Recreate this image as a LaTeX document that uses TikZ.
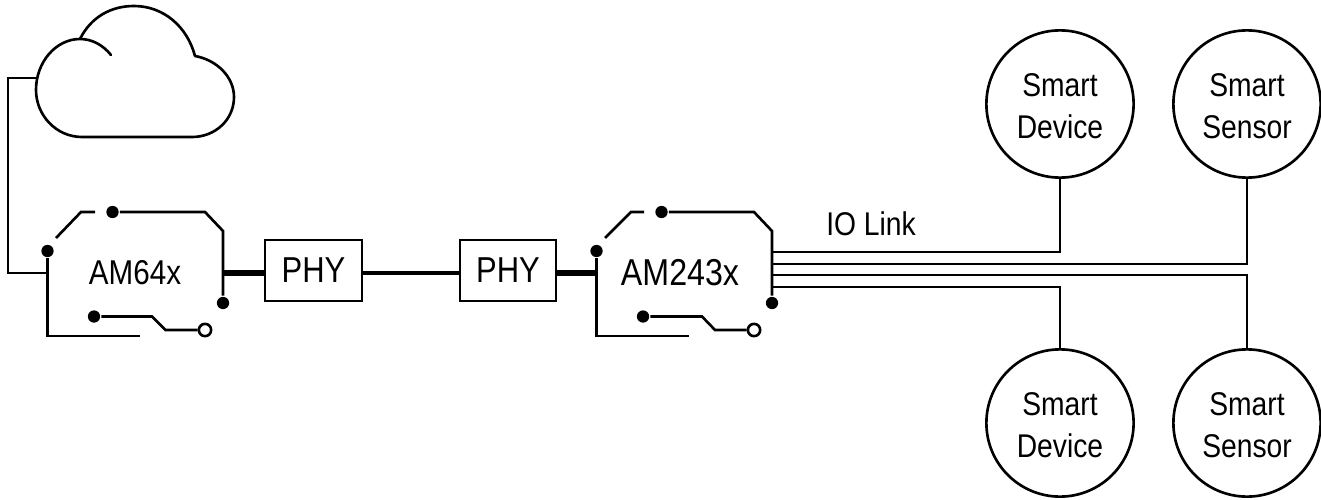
\documentclass[tikz,border=0pt]{standalone}
\usepackage{fontspec}
\setmainfont[FakeStretch=0.86]{Liberation Sans}
\newcommand{\smarttop}{\rule{0pt}{15.5pt}}
\begin{document}
\begin{tikzpicture}[x=0.02cm, y=0.02cm]
\tikzstyle{every node}+=[inner sep=0pt, font=\fontsize{18.7}{22}\selectfont]
\tikzstyle{every path}+=[line width=1.5pt, line join=miter]
\tikzstyle{dot}=[circle, fill=black, minimum size=7pt]
\tikzstyle{opendot}=[circle, draw=black, fill=white, minimum size=7pt]
\tikzstyle{phybox}=[draw=black, line width=1.3pt, minimum width=55pt, minimum height=34.5pt, font=\fontsize{20.5}{22}\selectfont]
\tikzstyle{smart}=[circle, draw=black, minimum size=83.8pt, align=center]
\tikzstyle{thickline}=[line width=3.2pt]
\tikzstyle{busline}=[line width=1.3pt]
\useasboundingbox (0,0) rectangle (1321,-500);
% cloud
\draw [black, line cap=round] (195,-56) .. controls (217,-60) and (234,-77) .. (234,-97) .. controls (234,-120) and (215,-137) .. (192,-137) -- (82,-137) .. controls (56,-137) and (36,-115) .. (36,-90) .. controls (36,-62) and (56,-39) .. (80,-39) .. controls (92,-39) and (103,-45) .. (111,-55);
\draw [black] (80,-39) .. controls (91,-17) and (111,-6) .. (134,-6) .. controls (163,-6) and (187,-26) .. (195,-56);
\coordinate (cloudport) at (36,-78);
% AM64x
\node [font=\fontsize{19.6}{22}\selectfont] (amA) at (135,-273) {AM64x};
\node [dot] (aTL) at (47.5,-251) {};
\node [dot] (aT) at (112.5,-212) {};
\node [dot] (aR) at (223,-303) {};
\node [dot] (aB) at (94,-316.5) {};
\node [opendot] (aO) at (205,-330) {};
\coordinate (aL) at (47.5,-273);
\coordinate (aM) at (223,-273);
\draw [black, line width=1.2pt] (cloudport) -- (8,-78) -- (8,-273) -- (aL);
\draw [black] (aTL) -- (47.5,-336) -- (140,-336);
\draw [black] (56,-238) -- (81,-212) -- (95,-212);
\draw [black] (aT) -- (205,-212) -- (223,-231) -- (aR);
\draw [black] (aB) -- (152,-316.5) -- (165.5,-330) -- (aO);
% PHY
\node [phybox] (phyA) at (313.5,-270.5) {PHY};
\node [phybox] (phyB) at (508,-270.5) {PHY};
\draw [thickline] (aM) -- (phyA.west |- aM);
\draw [black, line width=1.8pt] (phyA.east |- aM) -- (phyB.west |- aM);
% AM243x
\node [font=\fontsize{21.3}{22}\selectfont] (amB) at (680,-273) {AM243x};
\node [dot] (bTL) at (596.5,-251) {};
\node [dot] (bT) at (661.5,-212) {};
\node [dot] (bR) at (772,-303) {};
\node [dot] (bB) at (643,-316.5) {};
\node [opendot] (bO) at (754,-330) {};
\coordinate (bL) at (596.5,-273);
\draw [thickline] (phyB.east |- bL) -- (bL);
\draw [black] (bTL) -- (596.5,-336) -- (689,-336);
\draw [black] (605,-238) -- (631,-212) -- (644,-212);
\draw [black] (bT) -- (754,-212) -- (772,-231) -- (bR);
\draw [black] (bB) -- (702,-316.5) -- (715,-330) -- (bO);
% devices
\node [smart] (devA) at (1060,-104) {\smarttop Smart\\[2pt]Device};
\node [smart] (senA) at (1247,-104) {\smarttop Smart\\[2pt]Sensor};
\node [smart] (devB) at (1060,-423) {\smarttop Smart\\[2pt]Device};
\node [smart] (senB) at (1247,-423) {\smarttop Smart\\[2pt]Sensor};
\coordinate (busA) at (772,-252);
\coordinate (busB) at (772,-264);
\coordinate (busC) at (772,-275);
\coordinate (busD) at (772,-287);
\draw [busline] (busA) -| (devA.south);
\draw [busline] (busB) -| (senA.south);
\draw [busline] (busC) -| (senB.north);
\draw [busline] (busD) -| (devB.north);
\node (iolink) at (871,-224) {IO Link};
\end{tikzpicture}
\end{document}
